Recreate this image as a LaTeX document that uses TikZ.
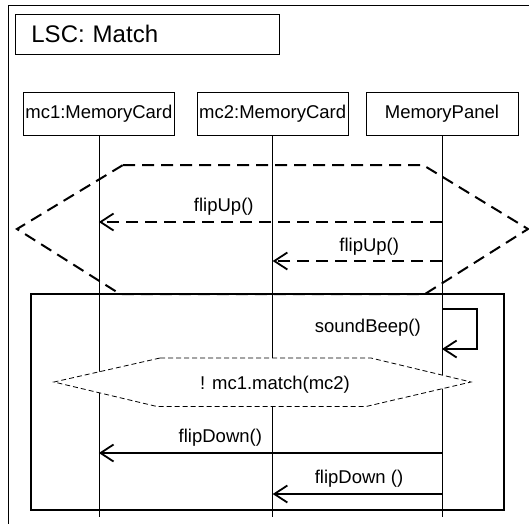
\documentclass[tikz,border=0pt]{standalone}
\usepackage{fontspec}
\setmainfont{Liberation Sans}
\usetikzlibrary{positioning,arrows.meta}

\begin{document}
\begin{tikzpicture}[
  x=1pt, y=1pt,
  node distance=20pt and 20pt,
  every node/.style={font=\fontsize{18.5}{21}\selectfont},
  obj/.style={draw, line width=0.8pt, minimum height=43pt, inner sep=0pt},
  life/.style={line width=0.8pt},
  msg/.style={-{Straight Barb[length=13pt,width=17pt]}, line width=1.8pt},
  hotline/.style={line width=2pt, dash pattern=on 12pt off 7pt},
  coldline/.style={line width=0.8pt, dash pattern=on 5pt off 3pt, fill=white},
  lbl/.style={inner sep=0pt}
]

\useasboundingbox (0,0) rectangle (529,-523);

% Frame and title
\draw[line width=0.8pt] (8,-530) -- (8,-5) -- (535,-5);
\node[draw, line width=0.8pt, anchor=north west, minimum height=40.5pt,
  text width=232pt, inner xsep=16pt, align=left,
  font=\fontsize{24}{28}\selectfont] (title) at (15,-13.5) {LSC: Match};

% Instances
\node[obj, anchor=north west, minimum width=151pt] (mc1) at (23,-91.5) {mc1:MemoryCard};
\node[obj, minimum width=151pt, right=22pt of mc1] (mc2) {mc2:MemoryCard};
\node[obj, minimum width=152pt, right=17pt of mc2] (pnl) {MemoryPanel};

% Lifelines
\draw[life] (mc1.south) -- (mc1.south |- 0,-517);
\draw[life] (mc2.south) -- (mc2.south |- 0,-517);
\draw[life] (pnl.south) -- (pnl.south |- 0,-517);

% Prechart (hot)
\draw[hotline] (123,-165) -- (423,-165) -- (528,-229) -- (425,-294)
  -- (120,-294) -- (17,-229) -- cycle;

% Main chart
\draw[line width=2.4pt] (31,-294) rectangle (504,-510);

% Condition (cold)
\draw[coldline] (160,-358) -- (371,-358) -- (471,-382) -- (366,-406.5)
  -- (157,-406.5) -- (54,-382) -- cycle;
\node (cond) at (275,-385) {! mc1.match(mc2)};

% Messages
\draw[msg, dash pattern=on 12pt off 7pt] (pnl.south |- 0,-222) -- (mc1.south |- 0,-222)
  node[lbl, pos=0.636, above=6pt] {flipUp()};
\draw[msg, dash pattern=on 12pt off 7pt] (pnl.south |- 0,-261) -- (mc2.south |- 0,-261)
  node[lbl, pos=0.43, above=5pt] {flipUp()};

\coordinate (beep) at (477,-309);
\coordinate (beeplbl) at (pnl.south |- 0,-328);
\draw[msg] (pnl.south |- beep) -- (beep) |- (pnl.south |- 0,-349);
\node[lbl, left=21pt of beeplbl] (sound) {soundBeep()};

\draw[msg] (pnl.south |- 0,-453) -- (mc1.south |- 0,-453)
  node[lbl, pos=0.646, above=6pt] {flipDown()};
\draw[msg] (pnl.south |- 0,-494) -- (mc2.south |- 0,-494)
  node[lbl, pos=0.49, above=6pt] {flipDown ()};

\end{tikzpicture}
\end{document}
